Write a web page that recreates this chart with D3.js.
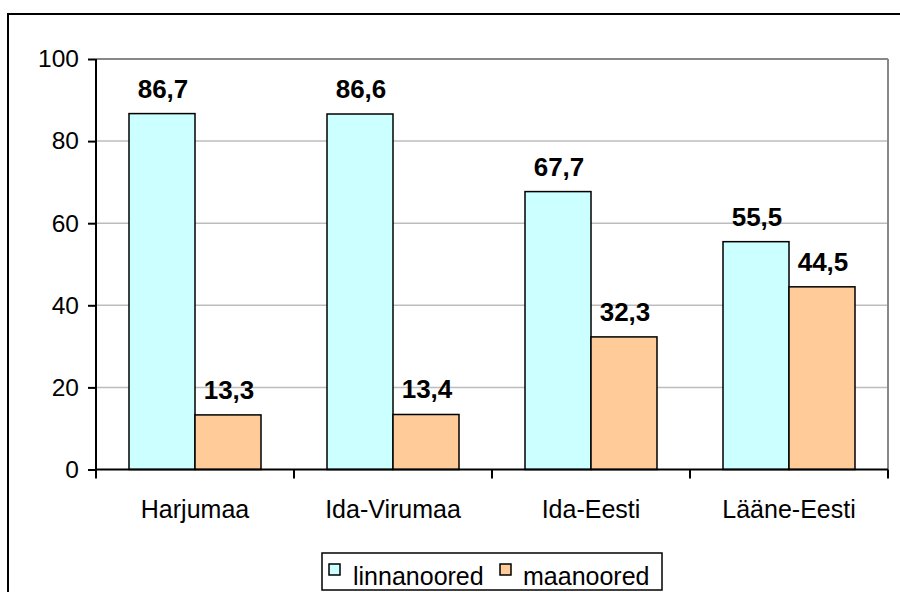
<!DOCTYPE html>
<html><head><meta charset="utf-8">
<script src="https://cdn.jsdelivr.net/npm/d3@7"></script>
<style>body{margin:0;background:#fff}svg{display:block}text{font-family:"Liberation Sans",Arial,sans-serif}</style>
</head><body>
<svg id="c" width="900" height="592"></svg>
<script>
const categories = ["Harjumaa","Ida-Virumaa","Ida-Eesti","Lääne-Eesti"];
const seriesNames = ["linnanoored","maanoored"];
const linnanoored = [86.7, 86.6, 67.7, 55.5];
const maanoored = [13.3, 13.4, 32.3, 44.5];
const yTicks = [0,20,40,60,80,100];
const colors = ["#CCFFFF","#FFCC99"];

(function(){
const svg = d3.select("#c");
const pL = 96, pR = 888, pT = 59, pB = 469.5;
const fmt = v => String(v.toFixed(1)).replace(".", ",");

svg.append("rect").attr("x",8).attr("y",14).attr("width",910).attr("height",610)
  .attr("fill","#fff").attr("stroke","#000").attr("stroke-width",2);

const x = d3.scaleBand().domain(categories).range([pL,pR]).paddingInner(0).paddingOuter(0);
const x1 = d3.scaleBand().domain(seriesNames).range([0,x.bandwidth()]).paddingInner(0).paddingOuter(0.5);
const y = d3.scaleLinear().domain([0,100]).range([pB,pT]);

svg.append("g").selectAll("line").data(yTicks.filter(d=>d>0)).join("line")
  .attr("x1",pL).attr("x2",pR).attr("y1",d=>y(d)).attr("y2",d=>y(d))
  .attr("stroke","#BDBDBD").attr("stroke-width",1.5);
svg.append("line").attr("x1",pR).attr("x2",pR).attr("y1",pT).attr("y2",pB)
  .attr("stroke","#888").attr("stroke-width",2);
svg.append("line").attr("x1",pL).attr("x2",pR).attr("y1",pT).attr("y2",pT)
  .attr("stroke","#888").attr("stroke-width",2);

const data = categories.map((c,i)=>({c, vals:[
  {s:seriesNames[0], v:linnanoored[i], col:colors[0]},
  {s:seriesNames[1], v:maanoored[i], col:colors[1]}]}));

const g = svg.append("g").selectAll("g").data(data).join("g")
  .attr("transform",d=>`translate(${x(d.c)},0)`);
g.selectAll("rect").data(d=>d.vals).join("rect")
  .attr("x",d=>x1(d.s)).attr("width",x1.bandwidth())
  .attr("y",d=>y(d.v)).attr("height",d=>pB-y(d.v))
  .attr("fill",d=>d.col).attr("stroke","#000").attr("stroke-width",1.5);
g.selectAll("text").data(d=>d.vals).join("text")
  .attr("x",d=>x1(d.s)+x1.bandwidth()/2+1).attr("y",d=>y(d.v)-16)
  .attr("text-anchor","middle").attr("font-weight","bold").attr("font-size",26)
  .text(d=>fmt(d.v));

const ya = svg.append("g").attr("transform",`translate(${pL},0)`)
  .call(d3.axisLeft(y).tickValues(yTicks).tickSize(8).tickPadding(9).tickFormat(d=>d));
ya.select(".domain").attr("stroke","#000").attr("stroke-width",2).attr("d",`M0,${pT}V${pB}`);
ya.selectAll(".tick line").attr("stroke","#000").attr("stroke-width",2);
ya.selectAll(".tick text").attr("font-size",24.5).attr("fill","#000").attr("font-family","Liberation Sans, Arial, sans-serif");

const xa = svg.append("g").attr("transform",`translate(0,${pB})`)
  .call(d3.axisBottom(x).tickSize(0).tickPadding(0));
xa.select(".domain").attr("stroke","#000").attr("stroke-width",2).attr("d",`M${pL},0H${pR}`);
xa.selectAll(".tick text").attr("font-size",25).attr("fill","#000").attr("dy",null).attr("y",48.5)
  .attr("font-family","Liberation Sans, Arial, sans-serif");
svg.append("g").selectAll("line").data(d3.range(categories.length+1)).join("line")
  .attr("x1",i=>pL+i*x.bandwidth()).attr("x2",i=>pL+i*x.bandwidth())
  .attr("y1",pB).attr("y2",pB+9).attr("stroke","#000").attr("stroke-width",2);

const lg = svg.append("g");
lg.append("rect").attr("x",322).attr("y",553).attr("width",340).attr("height",37)
  .attr("fill","#fff").attr("stroke","#000").attr("stroke-width",1.5);
const items = [{n:seriesNames[0],c:colors[0],sx:329,tx:353},{n:seriesNames[1],c:colors[1],sx:500,tx:523}];
items.forEach(it=>{
  lg.append("rect").attr("x",it.sx).attr("y",564).attr("width",11).attr("height",11)
    .attr("fill",it.c).attr("stroke","#000").attr("stroke-width",1.5);
  lg.append("text").attr("x",it.tx).attr("y",584.5).attr("font-size",25).text(it.n);
});
})();
</script>
</body></html>
